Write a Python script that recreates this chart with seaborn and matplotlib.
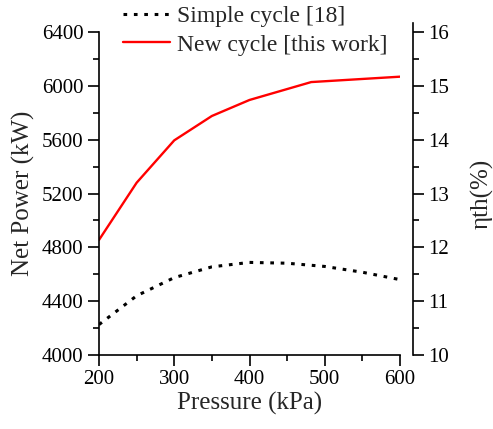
import pandas as pd
import matplotlib.pyplot as plt
import seaborn as sns

# data
pressure_simple = [200, 250, 300, 350, 400, 450, 500, 550, 600]
power_simple = [4226, 4440, 4575, 4655, 4688, 4682, 4658, 4615, 4560]

pressure_new = [200, 250, 300, 350, 400, 482, 600]
power_new = [4855, 5280, 5595, 5776, 5895, 6028, 6068]

left_ticks = [4000, 4400, 4800, 5200, 5600, 6000, 6400]
right_ticks = [10, 11, 12, 13, 14, 15, 16]
x_ticks = [200, 300, 400, 500, 600]

df_simple = pd.DataFrame({"Pressure": pressure_simple, "Power": power_simple})
df_new = pd.DataFrame({"Pressure": pressure_new, "Power": power_new})

sns.set_theme(style="ticks")
plt.rcParams['font.family'] = ['Liberation Serif', 'DejaVu Serif']

fig = plt.figure(figsize=(4.93, 4.29), dpi=100)
ax = fig.add_axes([0.2008, 0.1725, 0.6106, 0.7529])

sns.lineplot(data=df_simple, x="Pressure", y="Power", ax=ax, color="black",
             linewidth=2.2, linestyle=(0, (1.2, 2.2)), label="Simple cycle [18]")
sns.lineplot(data=df_new, x="Pressure", y="Power", ax=ax, color="#ff0000",
             linewidth=1.7, label="New cycle [this work]")

ax.set_xlim(200, 600)
ax.set_ylim(4000, 6400)
ax.set_xticks(x_ticks)
ax.set_xticks([250, 350, 450, 550], minor=True)
ax.set_yticks(left_ticks)
ax.set_yticks([4200, 4600, 5000, 5400, 5800, 6200], minor=True)
ax.set_xlabel("Pressure (kPa)", fontsize=18, labelpad=2)
ax.set_ylabel("Net Power (kW)", fontsize=18, labelpad=5)
ax.tick_params(which="major", direction="out", length=8, width=1.2, labelsize=15, colors="black", pad=3)
ax.tick_params(which="minor", direction="out", length=4, width=1.2, colors="black")
ax.spines["top"].set_visible(False)
ax.spines["right"].set_visible(False)
for s in ["left", "bottom"]:
    ax.spines[s].set_linewidth(1.2)
    ax.spines[s].set_color("black")

ax2 = ax.twinx()
ax2.set_ylim(10, 16)
ax2.set_yticks(right_ticks)
ax2.set_yticks([10.5, 11.5, 12.5, 13.5, 14.5, 15.5], minor=True)
ax2.spines["right"].set_position(("outward", 9.5))
ax2.spines["right"].set_bounds(10, 16.17)
ax2.spines["right"].set_linewidth(1.2)
ax2.spines["right"].set_color("black")
for s in ["top", "left", "bottom"]:
    ax2.spines[s].set_visible(False)
ax2.tick_params(which="major", direction="out", length=8, width=1.2, labelsize=15, colors="black", pad=3)
ax2.tick_params(which="minor", direction="out", length=4, width=1.2, colors="black")
ax2.set_ylabel("ηth(%)", fontsize=18, labelpad=15)

ax.legend_.remove()
handles, labels = ax.get_legend_handles_labels()
fig.legend(handles, labels, loc="upper left", bbox_to_anchor=(0.245, 0.993),
           frameon=False, fontsize=17, handlelength=2.0, handletextpad=0.3,
           labelspacing=0.3, borderpad=0.1, borderaxespad=0)

fig.savefig("out.png", dpi=100)
